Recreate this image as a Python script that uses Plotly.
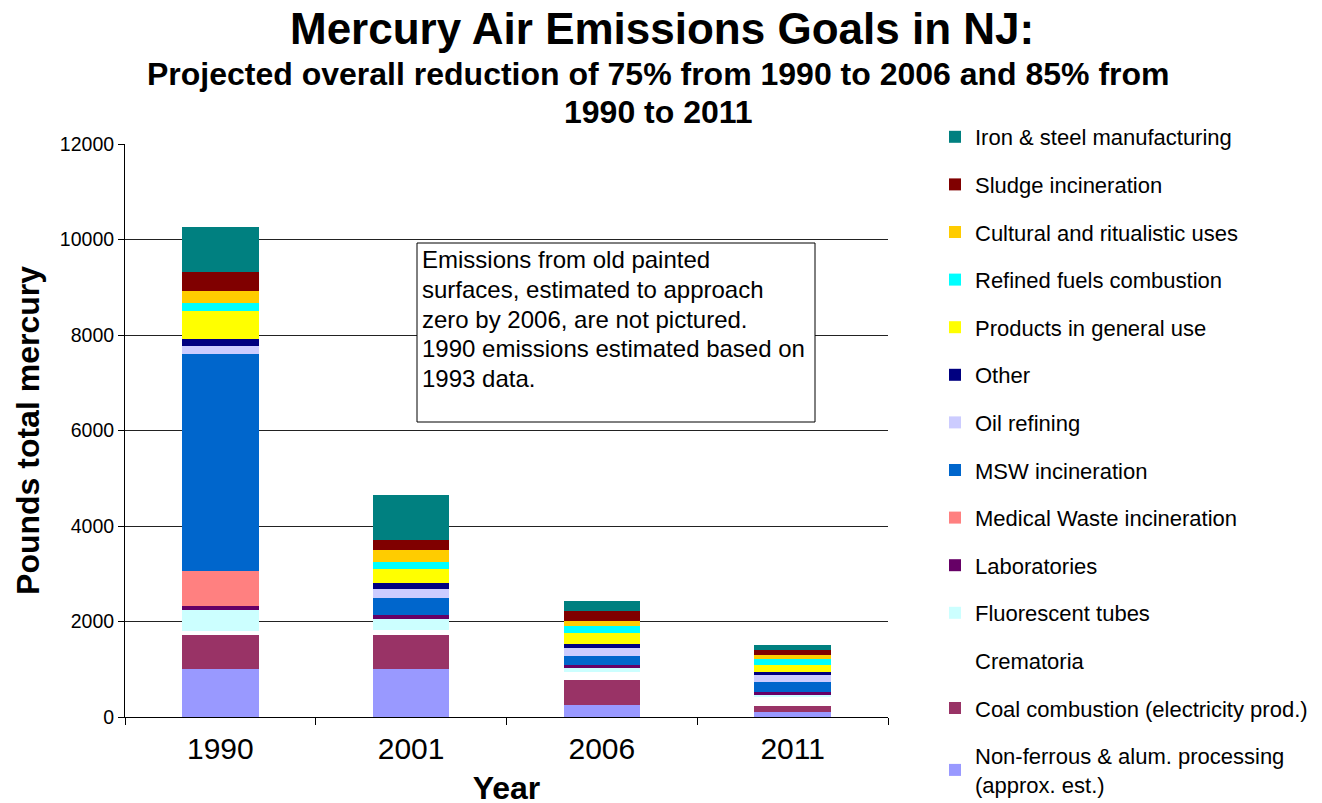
import plotly.graph_objects as go

years = ["1990", "2001", "2006", "2011"]

# stacking order: bottom to top
series_names = [
    "Non-ferrous & alum. processing<br>(approx. est.)",
    "Coal combustion (electricity prod.)",
    "Crematoria",
    "Fluorescent tubes",
    "Laboratories",
    "Medical Waste incineration",
    "MSW incineration",
    "Oil refining",
    "Other",
    "Products in general use",
    "Refined fuels combustion",
    "Cultural and ritualistic uses",
    "Sludge incineration",
    "Iron & steel manufacturing",
]

nonferrous = [1000, 1000, 250, 100]
coal = [710, 710, 525, 125]
crematoria = [85, 105, 175, 190]
fluorescent = [440, 230, 85, 65]
laboratories = [85, 85, 55, 40]
medical = [730, 0, 0, 0]
msw = [4545, 355, 195, 210]
oil_refining = [170, 190, 155, 145]
other = [145, 125, 95, 60]
products = [590, 295, 225, 145]
refined_fuels = [160, 155, 155, 125]
cultural = [260, 245, 100, 85]
sludge = [400, 210, 195, 105]
iron_steel = [950, 940, 225, 105]

series_values = [nonferrous, coal, crematoria, fluorescent, laboratories, medical,
                 msw, oil_refining, other, products, refined_fuels, cultural,
                 sludge, iron_steel]

colors = ["#9999FF", "#993366", "#FFFFFF", "#CCFFFF", "#660066", "#FF8080",
          "#0066CC", "#CCCCFF", "#000080", "#FFFF00", "#00FFFF", "#FFCC00",
          "#800000", "#008080"]

y_ticks = [0, 2000, 4000, 6000, 8000, 10000, 12000]

note_lines = [
    "Emissions from old painted",
    "surfaces, estimated to approach",
    "zero by 2006, are not pictured.",
    "1990 emissions estimated based on",
    "1993 data.",
]

FONT = "Arial, 'Liberation Sans', sans-serif"

fig = go.Figure()
n = len(series_names)
for i, (name, vals, col) in enumerate(zip(series_names, series_values, colors)):
    fig.add_trace(go.Bar(
        x=years, y=vals, name=name, marker=dict(color=col, line=dict(width=0)),
        legendgroup=f"g{i}", legendrank=n - i,
    ))

# page offset (body margin) in the screenshot
OFF = 8
# desired plot area on screen: x 124..888, y 144..717
SX0, SX1, SY0, SY1 = 125, 888, 144, 717
W, H = SX1 - SX0, SY1 - SY0
L = SX0 - OFF
T = SY0 - OFF
R = 1322 - L - W
B = 803 - T - H

def px(x):
    return (x - SX0) / W

def py(y):
    return (SY1 - y) / H

fig.update_layout(
    width=1322, height=803,
    margin=dict(l=L, r=R, t=T, b=B, autoexpand=False),
    barmode="stack", bargap=0.6,
    plot_bgcolor="white", paper_bgcolor="white",
    font=dict(family=FONT, color="black"),
    showlegend=True,
    legend=dict(
        traceorder="grouped", tracegroupgap=16, maxheight=760,
        x=px(935), y=py(116), xanchor="left", yanchor="top",
        font=dict(size=22, family=FONT, color="black"),
        bgcolor="rgba(0,0,0,0)",
    ),
    xaxis=dict(
        automargin=False,
        showline=True, linecolor="black", linewidth=1,
        tickson="boundaries", ticks="outside", ticklen=7, tickcolor="black",
        ticklabelstandoff=5,
        tickfont=dict(size=30, family=FONT, color="black"),
        title=dict(text="<b>Year</b>", font=dict(size=32, family=FONT), standoff=12),
    ),
    yaxis=dict(
        automargin=False,
        range=[0, 12000], tickvals=y_ticks, ticktext=[str(v) for v in y_ticks],
        showline=True, linecolor="black", linewidth=1,
        showgrid=True, gridcolor="#222222", gridwidth=1,
        ticks="outside", ticklen=6, tickcolor="black",
        tickfont=dict(size=19.5, family=FONT, color="black"),
        title=dict(text="<b>Pounds total mercury</b>", font=dict(size=32, family=FONT), standoff=10),
        zeroline=False,
    ),
)

fig.add_annotation(
    text="<b>Mercury Air Emissions Goals in NJ:</b>",
    xref="paper", yref="paper", x=px(662), y=py(29), xanchor="center", yanchor="middle",
    showarrow=False, font=dict(size=44, family=FONT, color="black"),
)
fig.add_annotation(
    text="<b>Projected overall reduction of 75% from 1990 to 2006 and 85% from</b>",
    xref="paper", yref="paper", x=px(658), y=py(74), xanchor="center", yanchor="middle",
    showarrow=False, font=dict(size=32, family=FONT, color="black"),
)
fig.add_annotation(
    text="<b>1990 to 2011</b>",
    xref="paper", yref="paper", x=px(658), y=py(112), xanchor="center", yanchor="middle",
    showarrow=False, font=dict(size=32, family=FONT, color="black"),
)

fig.add_shape(
    type="rect", xref="paper", yref="paper",
    x0=px(417), x1=px(815), y0=py(422), y1=py(243),
    line=dict(color="black", width=1), fillcolor="white", layer="above",
)
for k, line in enumerate(note_lines):
    fig.add_annotation(
        text=line,
        xref="paper", yref="paper", x=px(420), y=py(260 + 29.5 * k),
        xanchor="left", yanchor="middle",
        align="left", showarrow=False, font=dict(size=24, family=FONT, color="black"),
    )

fig.write_html("out.html")
